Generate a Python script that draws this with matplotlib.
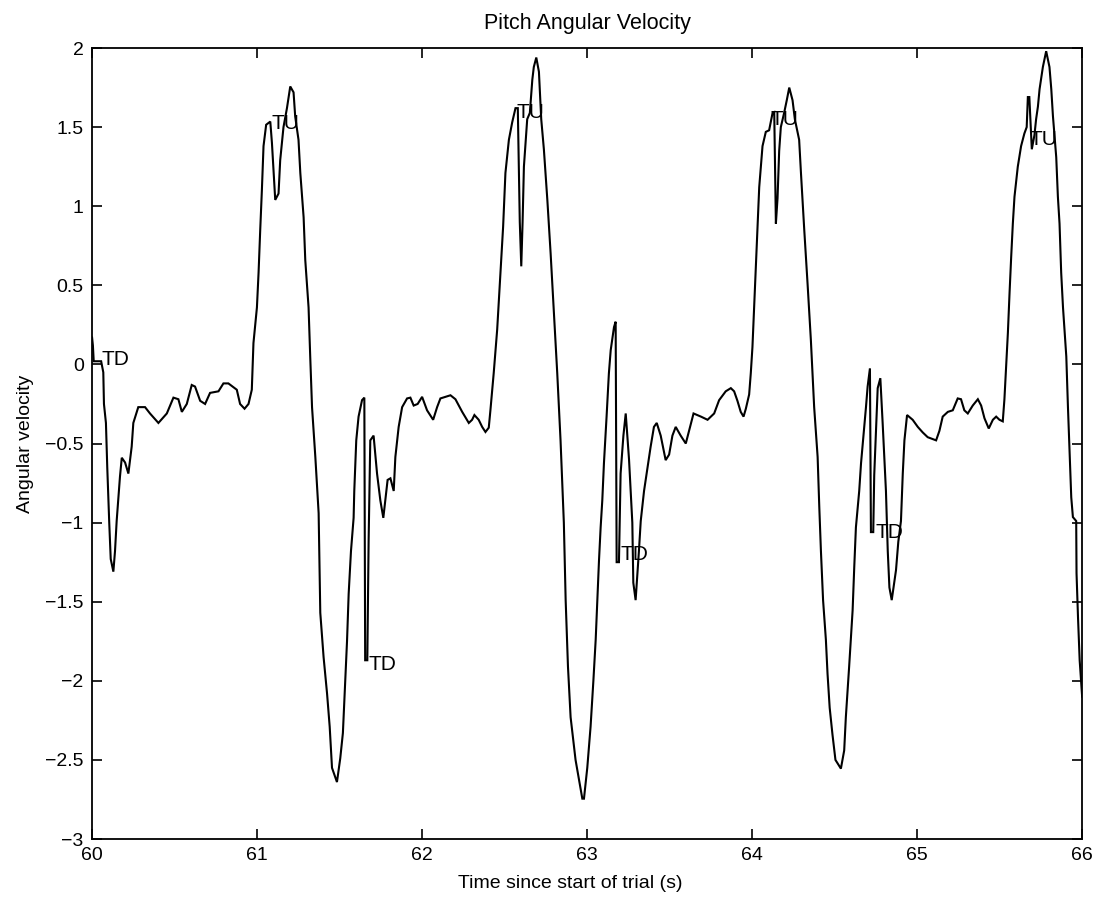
import matplotlib
matplotlib.use("Agg")
import matplotlib.pyplot as plt

plt.rcParams['font.family'] = ['Liberation Sans', 'DejaVu Sans']

# Time (s) and pitch angular velocity
time = [
    60.000, 60.005, 60.010, 60.055, 60.068, 60.072, 60.084, 60.092, 60.104, 60.113,
    60.129, 60.139, 60.149, 60.169, 60.180, 60.200, 60.220, 60.240, 60.250, 60.280,
    60.321, 60.351, 60.402, 60.453, 60.493, 60.523, 60.544, 60.574, 60.604, 60.624,
    60.655, 60.685, 60.715, 60.766, 60.796, 60.826, 60.877, 60.897, 60.924, 60.948,
    60.968, 60.978, 60.999, 61.009, 61.019, 61.029, 61.039, 61.055, 61.080, 61.090,
    61.110, 61.130, 61.140, 61.160, 61.181, 61.201, 61.221, 61.231, 61.251, 61.262,
    61.282, 61.292, 61.312, 61.322, 61.333, 61.353, 61.373, 61.378, 61.383, 61.403,
    61.424, 61.440, 61.454, 61.484, 61.504, 61.520, 61.530, 61.545, 61.555, 61.569,
    61.585, 61.589, 61.601, 61.615, 61.636, 61.650, 61.655, 61.668, 61.672, 61.676,
    61.686, 61.706, 61.727, 61.747, 61.765, 61.777, 61.791, 61.808, 61.828, 61.838,
    61.858, 61.879, 61.909, 61.929, 61.949, 61.973, 62.000, 62.030, 62.067, 62.091,
    62.111, 62.172, 62.202, 62.243, 62.283, 62.303, 62.317, 62.343, 62.364, 62.384,
    62.404, 62.414, 62.434, 62.455, 62.475, 62.491, 62.505, 62.526, 62.546, 62.566,
    62.580, 62.592, 62.601, 62.609, 62.617, 62.637, 62.653, 62.668, 62.677, 62.692,
    62.708, 62.722, 62.738, 62.759, 62.779, 62.799, 62.819, 62.839, 62.859, 62.870,
    62.884, 62.900, 62.930, 62.971, 62.981, 63.001, 63.021, 63.038, 63.052, 63.062,
    63.072, 63.082, 63.092, 63.102, 63.118, 63.132, 63.143, 63.163, 63.173, 63.179,
    63.193, 63.203, 63.220, 63.234, 63.254, 63.274, 63.280, 63.294, 63.314, 63.325,
    63.345, 63.365, 63.385, 63.405, 63.422, 63.446, 63.476, 63.497, 63.517, 63.537,
    63.567, 63.598, 63.618, 63.645, 63.690, 63.730, 63.770, 63.800, 63.840, 63.871,
    63.891, 63.911, 63.931, 63.948, 63.962, 63.982, 63.992, 64.002, 64.012, 64.022,
    64.033, 64.043, 64.063, 64.083, 64.103, 64.124, 64.134, 64.144, 64.154, 64.164,
    64.174, 64.194, 64.210, 64.225, 64.245, 64.259, 64.285, 64.296, 64.316, 64.336,
    64.356, 64.376, 64.397, 64.407, 64.417, 64.430, 64.447, 64.457, 64.470, 64.487,
    64.505, 64.538, 64.558, 64.568, 64.588, 64.609, 64.619, 64.629, 64.649, 64.660,
    64.676, 64.690, 64.700, 64.714, 64.720, 64.734, 64.740, 64.761, 64.777, 64.791,
    64.811, 64.822, 64.832, 64.846, 64.872, 64.886, 64.902, 64.913, 64.923, 64.939,
    64.973, 65.004, 65.034, 65.064, 65.115, 65.135, 65.155, 65.186, 65.216, 65.246,
    65.266, 65.286, 65.307, 65.337, 65.368, 65.388, 65.408, 65.434, 65.459, 65.479,
    65.499, 65.519, 65.529, 65.539, 65.550, 65.560, 65.570, 65.580, 65.590, 65.610,
    65.630, 65.650, 65.664, 65.671, 65.680, 65.695, 65.711, 65.721, 65.732, 65.742,
    65.762, 65.782, 65.802, 65.813, 65.823, 65.843, 65.853, 65.863, 65.873, 65.884,
    65.904, 65.914, 65.924, 65.934, 65.944, 65.964, 65.966, 65.975, 65.985, 66.000,
]
velocity = [
    0.17, 0.12, 0.02, 0.02, -0.05, -0.25, -0.37, -0.65, -1.00, -1.23,
    -1.31, -1.18, -0.99, -0.71, -0.59, -0.62, -0.69, -0.52, -0.37, -0.27,
    -0.27, -0.31, -0.37, -0.31, -0.21, -0.22, -0.30, -0.25, -0.13, -0.14,
    -0.23, -0.25, -0.18, -0.17, -0.12, -0.12, -0.16, -0.25, -0.28, -0.25,
    -0.16, 0.135, 0.36, 0.58, 0.85, 1.10, 1.38, 1.515, 1.535, 1.40,
    1.04, 1.08, 1.29, 1.50, 1.62, 1.757, 1.72, 1.567, 1.42, 1.21,
    0.93, 0.66, 0.36, 0.05, -0.27, -0.585, -0.94, -1.26, -1.57, -1.85,
    -2.08, -2.29, -2.55, -2.64, -2.49, -2.33, -2.10, -1.75, -1.45, -1.18,
    -0.97, -0.80, -0.48, -0.33, -0.226, -0.21, -1.87, -1.87, -1.49, -1.11,
    -0.48, -0.45, -0.69, -0.86, -0.97, -0.86, -0.73, -0.72, -0.80, -0.585,
    -0.395, -0.27, -0.215, -0.21, -0.26, -0.25, -0.205, -0.29, -0.35, -0.27,
    -0.215, -0.195, -0.22, -0.30, -0.37, -0.35, -0.32, -0.35, -0.395, -0.427,
    -0.40, -0.29, -0.055, 0.22, 0.58, 0.87, 1.21, 1.42, 1.53, 1.62,
    1.62, 0.90, 0.62, 0.90, 1.25, 1.55, 1.59, 1.80, 1.88, 1.94,
    1.85, 1.55, 1.36, 1.04, 0.70, 0.32, -0.055, -0.48, -1.00, -1.49,
    -1.91, -2.23, -2.50, -2.745, -2.745, -2.55, -2.29, -2.00, -1.74, -1.49,
    -1.24, -1.03, -0.86, -0.625, -0.33, -0.056, 0.09, 0.236, 0.27, -1.25,
    -1.25, -0.69, -0.45, -0.31, -0.60, -1.00, -1.38, -1.49, -1.18, -0.99,
    -0.80, -0.66, -0.52, -0.395, -0.37, -0.45, -0.605, -0.57, -0.45, -0.395,
    -0.45, -0.50, -0.42, -0.31, -0.33, -0.35, -0.31, -0.226, -0.17, -0.15,
    -0.17, -0.23, -0.30, -0.33, -0.28, -0.19, -0.055, 0.11, 0.36, 0.62,
    0.87, 1.12, 1.38, 1.47, 1.48, 1.59, 1.595, 0.89, 1.05, 1.35,
    1.50, 1.59, 1.67, 1.75, 1.67, 1.55, 1.42, 1.21, 0.85, 0.51,
    0.155, -0.27, -0.585, -0.90, -1.18, -1.49, -1.74, -1.955, -2.17, -2.34,
    -2.50, -2.555, -2.44, -2.23, -1.91, -1.555, -1.28, -1.03, -0.80, -0.625,
    -0.435, -0.27, -0.14, -0.025, -1.06, -1.06, -0.70, -0.15, -0.087, -0.37,
    -0.80, -1.18, -1.41, -1.49, -1.30, -1.12, -0.99, -0.69, -0.48, -0.32,
    -0.35, -0.395, -0.43, -0.46, -0.48, -0.42, -0.33, -0.30, -0.29, -0.215,
    -0.22, -0.29, -0.31, -0.26, -0.22, -0.26, -0.34, -0.405, -0.35, -0.33,
    -0.35, -0.36, -0.22, -0.015, 0.20, 0.45, 0.68, 0.89, 1.06, 1.25,
    1.38, 1.46, 1.50, 1.69, 1.69, 1.36, 1.45, 1.55, 1.63, 1.74,
    1.88, 1.98, 1.88, 1.74, 1.57, 1.31, 1.06, 0.89, 0.58, 0.36,
    0.05, -0.27, -0.56, -0.84, -0.965, -0.99, -1.32, -1.60, -1.87, -2.10,
]

# Event labels (touch-down / take-up)
event_labels = ["TD", "TU", "TD", "TU", "TD", "TU", "TD", "TU"]
event_time = [60.058, 61.090, 61.675, 62.570, 63.200, 64.110, 64.750, 65.680]
event_value = [0.03, 1.52, -1.90, 1.59, -1.20, 1.55, -1.06, 1.42]

x_ticks = [60, 61, 62, 63, 64, 65, 66]
y_ticks = [-3, -2.5, -2, -1.5, -1, -0.5, 0, 0.5, 1, 1.5, 2]

fig = plt.figure(figsize=(11.04, 9.01), dpi=100)
ax = fig.add_axes([0.0834, 0.0688, 0.8968, 0.8779])

ax.plot(time, velocity, color='black', linewidth=1.5, solid_joinstyle='miter')

for lab, t, v in zip(event_labels, event_time, event_value):
    ax.text(t, v, lab, fontsize=15, ha='left', va='center', color='black')

ax.set_xlim(60, 66)
ax.set_ylim(-3, 2)
ax.set_xticks(x_ticks)
ax.set_xticklabels([str(v) for v in x_ticks])
ax.set_yticks(y_ticks)
ax.set_yticklabels([('%g' % v).replace('-', '\u2212') for v in y_ticks])

ax.tick_params(direction='in', length=7, width=1.2, top=True, right=True,
               labelsize=14, pad=6)
for s in ax.spines.values():
    s.set_linewidth(1.3)

ax.set_title('Pitch Angular Velocity', fontsize=15.5, pad=14)
ax.set_xlabel('Time since start of trial (s)', fontsize=14, labelpad=5)
ax.xaxis.set_label_coords(0.483, -0.045)
ax.set_ylabel('Angular velocity', fontsize=14, labelpad=8)

fig.savefig('out.png', dpi=100)
